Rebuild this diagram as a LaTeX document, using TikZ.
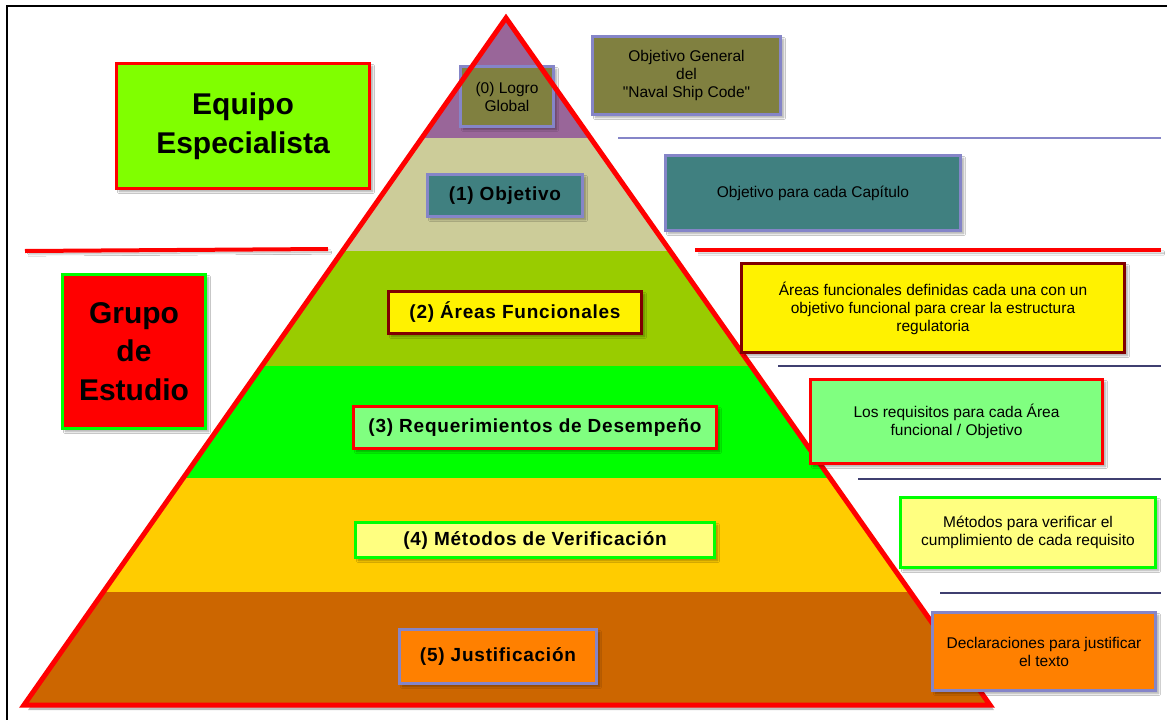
\documentclass[tikz,border=0pt]{standalone}
\usepackage{fontspec}
\setmainfont{Liberation Sans}
\newfontfamily\lblfont[LetterSpace=4]{Liberation Sans}
\newfontfamily\qfont[Ligatures=TeXOff]{Liberation Sans}
\usetikzlibrary{shadows.blur}
\definecolor{cPurple}{HTML}{996699}
\definecolor{cTan}{HTML}{CCCC99}
\definecolor{cOlive}{HTML}{99CC00}
\definecolor{cGreen}{HTML}{00FF00}
\definecolor{cGold}{HTML}{FFCC00}
\definecolor{cBrown}{HTML}{CC6600}
\definecolor{bOlive}{HTML}{808040}
\definecolor{bTeal}{HTML}{408080}
\definecolor{lav}{HTML}{8585C8}
\definecolor{dRed}{HTML}{800000}
\definecolor{lGreen}{HTML}{80FF80}
\definecolor{lYellow}{HTML}{FFFF80}
\definecolor{cOrange}{HTML}{FF8000}
\definecolor{eqGreen}{HTML}{80FF00}
\definecolor{navy}{HTML}{3F3F70}
\tikzset{
  shd/.style={blur shadow={shadow xshift=3pt, shadow yshift=-3pt, shadow blur steps=6, shadow opacity=35}},
  boxbase/.style={shd, line width=3pt, inner sep=0pt, align=center},
  small/.style={boxbase, font=\fontsize{15.5}{18}\selectfont},
  lbl/.style={boxbase, font=\fontsize{19}{22}\selectfont\lblfont\bfseries},
  big/.style={boxbase, font=\fontsize{30}{38.5}\selectfont\bfseries},
  sepline/.style={line width=2pt},
  redline/.style={line width=4pt, red},
}
\begin{document}
\begin{tikzpicture}[x=1pt,y=-1pt]
\useasboundingbox (0,0) rectangle (1167,720);
\fill[white] (0,0) rectangle (1167,720);
% frame
\draw[line width=2pt] (7,720) -- (7,6) -- (1167,6);
% pyramid
\coordinate (apex) at (506,18);
\coordinate (bl) at (24,705);
\coordinate (br) at (990,705);
\fill[black, opacity=0.25] ([shift={(4,5)}]apex) -- ([shift={(4,5)}]bl) -- ([shift={(4,5)}]br) -- cycle;
\begin{scope}
  \clip (apex) -- (bl) -- (br) -- cycle;
  \fill[cPurple] (0,0) rectangle (1167,138);
  \fill[cTan] (0,138) rectangle (1167,251);
  \fill[cOlive] (0,251) rectangle (1167,366);
  \fill[cGreen] (0,366) rectangle (1167,478);
  \fill[cGold] (0,478) rectangle (1167,592);
  \fill[cBrown] (0,592) rectangle (1167,710);
\end{scope}
% apex box under outline
\node[small, fill=bOlive, draw=lav, minimum width=93, minimum height=60] (n0) at (507,96.5) {(0) Logro\\Global};
\draw[red, line width=5pt, line join=miter] (apex) -- (bl) -- (br) -- cycle;
% separator lines
\coordinate (s0a) at (618,138); \coordinate (s0b) at (1161,138);
\draw[sepline, lav] (s0a) -- (s0b);
\coordinate (r1a) at (25,251); \coordinate (r1b) at (328,249);
\draw[redline, shd] (r1a) -- (r1b);
\coordinate (r2a) at (695,250); \coordinate (r2b) at (1161,250);
\draw[redline, shd] (r2a) -- (r2b);
\coordinate (s1a) at (778,366); \coordinate (s1b) at (1161,366);
\draw[sepline, navy] (s1a) -- (s1b);
\coordinate (s2a) at (858,479); \coordinate (s2b) at (1161,479);
\draw[sepline, navy] (s2a) -- (s2b);
\coordinate (s3a) at (940,593); \coordinate (s3b) at (1161,593);
\draw[sepline, navy] (s3a) -- (s3b);
% left labels
\node[big, fill=eqGreen, draw=red, minimum width=253, minimum height=125] (eq) at (243,126) {Equipo\\Especialista};
\node[big, fill=red, draw=cGreen, minimum width=143, minimum height=154] (gr) at (134,351.5) {Grupo\\de\\Estudio};
% pyramid labels
\node[lbl, fill=bTeal, draw=lav, minimum width=155, minimum height=42] (n1) at (505,195.5) {(1) Objetivo};
\node[lbl, fill=yellow, draw=dRed, minimum width=253, minimum height=42] (n2) at (515,312.5) {(2) Áreas Funcionales};
\node[lbl, fill=lGreen, draw=red, minimum width=363, minimum height=42] (n3) at (535,427.5) {(3) Requerimientos de Desempeño};
\node[lbl, fill=lYellow, draw=cGreen, minimum width=359, minimum height=35] (n4) at (535,540) {(4) Métodos de Verificación};
\node[lbl, fill=cOrange, draw=lav, minimum width=197, minimum height=54] (n5) at (498,656.5) {(5) Justificación};
% right descriptions
\node[small, fill=bOlive, draw=lav, minimum width=188, minimum height=78, font=\fontsize{15.5}{18}\qfont] (d0) at (686.5,75.5) {Objetivo General\\del\\"Naval Ship Code"};
\node[small, fill=bTeal, draw=lav, minimum width=295, minimum height=75] (d1) at (813,193) {Objetivo para cada Capítulo};
\node[small, fill=yellow, draw=dRed, minimum width=383, minimum height=89] (d2) at (933,308) {Áreas funcionales definidas cada una con un\\objetivo funcional para crear la estructura\\regulatoria};
\node[small, fill=lGreen, draw=red, minimum width=292, minimum height=84] (d3) at (956.5,421.5) {Los requisitos para cada Área\\funcional / Objetivo};
\node[small, fill=lYellow, draw=cGreen, minimum width=255, minimum height=70] (d4) at (1028,532.5) {Métodos para verificar el\\cumplimiento de cada requisito};
\node[small, fill=cOrange, draw=lav, minimum width=223, minimum height=78] (d5) at (1044,651.5) {Declaraciones para justificar\\el texto};
\end{tikzpicture}
\end{document}
